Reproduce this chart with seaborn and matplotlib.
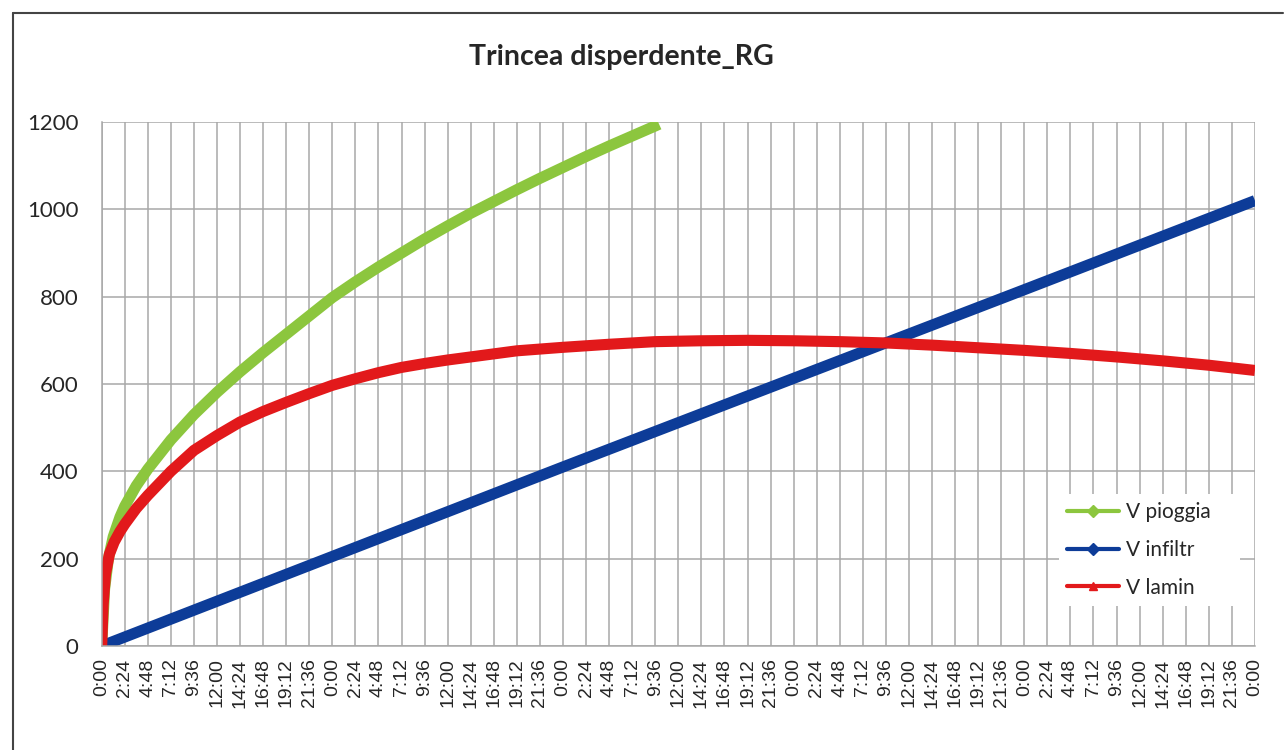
import numpy as np
import pandas as pd
import seaborn as sns
import matplotlib.pyplot as plt
from matplotlib.lines import Line2D

# time in hours, volumes
ore_pioggia = [0, 0.3, 0.7, 1.2, 1.9, 2.4, 3.6, 4.8, 7.2, 9.6, 12, 14.4, 16.8, 19.2, 21.6,
               24, 26.4, 28.8, 31.2, 33.6, 36, 38.4, 40.8, 43.2, 45.6, 48, 50.4, 52.8,
               55.2, 57.6, 58.0]
v_pioggia = [0, 130, 200, 250, 295, 320, 367, 405, 472, 530, 581, 628, 672, 714, 756,
             798, 834, 868, 900, 932, 962, 991, 1018, 1045, 1071, 1096, 1121, 1145,
             1168, 1191, 1195]

ore_infiltr = [0, 24, 48, 72, 96, 120]
v_infiltr = [0, 205, 410, 613, 816, 1020]

ore_lamin = [0, 0.15, 0.4, 0.8, 1.3, 1.9, 2.4, 3.6, 4.8, 7.2, 9.6, 12, 14.4, 16.8, 19.2, 21.6,
             24, 26.4, 28.8, 31.2, 33.6, 36, 38.4, 40.8, 43.2, 45.6, 48, 52.8, 57.6,
             62.4, 67.2, 72, 76.8, 81.6, 86.4, 91.2, 96, 100.8, 105.6, 110.4, 115.2, 120]
v_lamin = [0, 95, 165, 210, 238, 262, 279, 315, 345, 400, 448, 482, 513, 537, 558, 578,
           597, 612, 626, 638, 647, 655, 662, 669, 676, 680, 684, 691, 697,
           699, 700, 699, 697, 694, 689, 683, 677, 670, 662, 653, 643, 631]

series = ['V pioggia', 'V infiltr', 'V lamin']
colori = ['#8cc63e', '#0d3c98', '#e2191b']
marker = ['D', 'D', '^']

giorno = ['0:00', '2:24', '4:48', '7:12', '9:36', '12:00', '14:24', '16:48', '19:12', '21:36']
tick_labels = giorno * 5 + ['0:00']

df = pd.concat([
    pd.DataFrame({'ore': ore_pioggia, 'volume': v_pioggia, 'serie': series[0]}),
    pd.DataFrame({'ore': ore_infiltr, 'volume': v_infiltr, 'serie': series[1]}),
    pd.DataFrame({'ore': ore_lamin, 'volume': v_lamin, 'serie': series[2]}),
])

sns.set_style('white')
plt.rcParams['font.family'] = ['Lato', 'DejaVu Sans']

fig = plt.figure(figsize=(12.87, 7.5), dpi=100)
ax = fig.add_axes([0.0790, 0.1387, 0.8961, 0.6986])

sns.lineplot(data=df, x='ore', y='volume', hue='serie', hue_order=series,
             palette=dict(zip(series, colori)), linewidth=8, estimator=None,
             sort=False, legend=False, ax=ax)
for l in ax.get_lines():
    l.set_solid_capstyle('butt')

ax.set_xlim(0, 120)
ax.set_ylim(0, 1200)
ax.set_xticks(np.arange(len(tick_labels)) * 2.4)
ax.set_xticklabels(tick_labels, rotation=90, fontsize=14, family='Liberation Sans')
ax.set_yticks(range(0, 1201, 200))
ax.tick_params(axis='y', labelsize=16, length=5.8, color='#a8a8a8', pad=11)
ax.tick_params(axis='x', length=5, color='#a8a8a8', pad=4)
ax.set_xlabel('')
ax.set_ylabel('')
ax.grid(True, color='#a8a8a8', linewidth=1.1)
for s in ['top', 'right']:
    ax.spines[s].set_visible(False)
for s in ['left', 'bottom']:
    ax.spines[s].set_color('#a8a8a8')
    ax.spines[s].set_linewidth(1.1)

handles = [Line2D([], [], color=c, lw=3, marker=m, markersize=6) for c, m in zip(colori, marker)]
leg = ax.legend(handles, series, loc='upper left', bbox_to_anchor=(0.821, 0.10, 0.175, 0.21),
                mode='expand', fontsize=15, frameon=True, facecolor='white', edgecolor='none',
                framealpha=1, handlelength=2.5, labelspacing=0.85, borderpad=0.4, handletextpad=0.3)

fig.text(0.4825, 0.924, 'Trincea disperdente_RG', fontsize=20.5, weight='bold',
         ha='center', va='center')

# outer chart border
fig.add_artist(Line2D([13 / 1287, 13 / 1287], [0, 1 - 13 / 750], color='#444444', lw=1.5))
fig.add_artist(Line2D([13 / 1287, 1283 / 1287], [1 - 13 / 750, 1 - 13 / 750], color='#444444', lw=1.5))

fig.savefig('out.png', dpi=100)
